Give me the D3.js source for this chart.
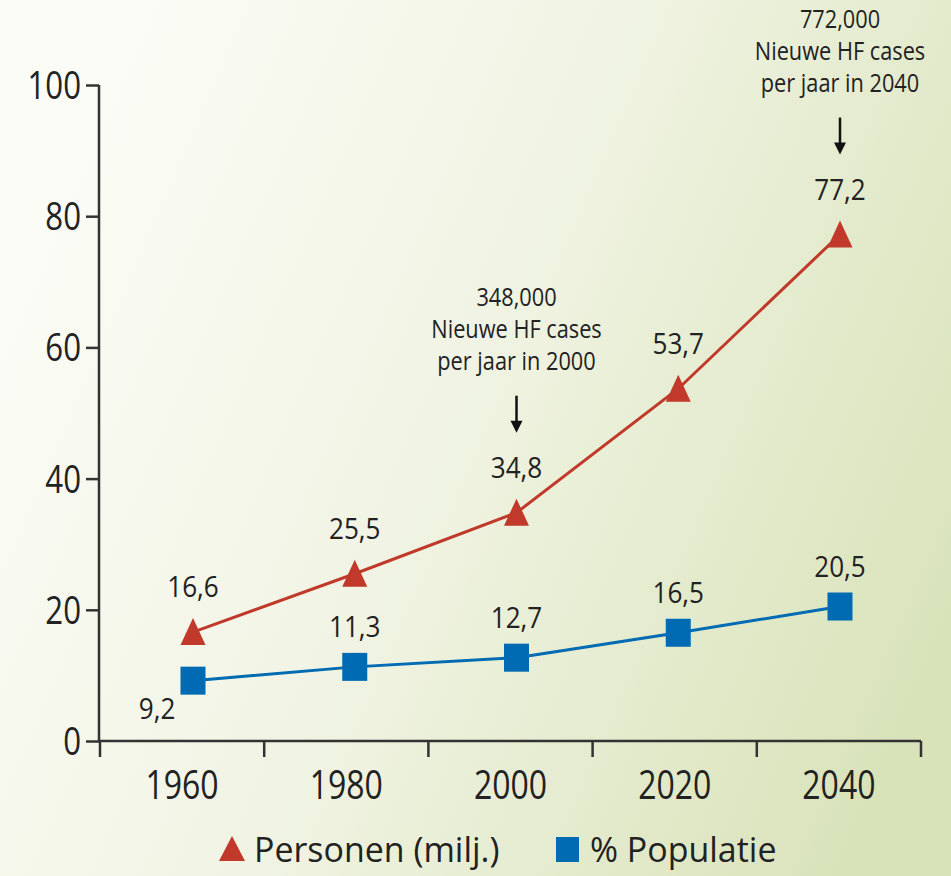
<!DOCTYPE html>
<html>
<head>
<meta charset="utf-8">
<script src="https://cdn.jsdelivr.net/npm/d3@7"></script>
<style>
  body { margin: 0; }
  svg text { font-family: "Open Sans", "Liberation Sans", sans-serif; fill: #222; }
</style>
</head>
<body>
<svg id="chart" width="951" height="876"></svg>
<script>
// data
var years = ['1960', '1980', '2000', '2020', '2040'];
var personen = [16.6, 25.5, 34.8, 53.7, 77.2];
var populatie = [9.2, 11.3, 12.7, 16.5, 20.5];
var yTicks = [0, 20, 40, 60, 80, 100];
var notes = [
  {year: '2000', lines: ['348,000', 'Nieuwe HF cases', 'per jaar in 2000']},
  {year: '2040', lines: ['772,000', 'Nieuwe HF cases', 'per jaar in 2040']}
];
var legendItems = ['Personen (milj.)', '% Populatie'];

var red = '#c0392a', blue = '#006bb2';
var fmt = function(v) { return String(v).replace('.', ','); };

var svg = d3.select('#chart');

// narrow text: squeeze horizontally around its anchor
function label(parent, x, y, str, size, sx, anchor) {
  return parent.append('text')
    .attr('transform', 'translate(' + x + ',' + y + ') scale(' + sx + ',1)')
    .attr('text-anchor', anchor || 'middle')
    .attr('font-size', size)
    .text(str);
}

// background gradient
var grad = svg.append('defs').append('linearGradient')
  .attr('id', 'bg').attr('x1', '0%').attr('y1', '30%').attr('x2', '100%').attr('y2', '70%');
grad.append('stop').attr('offset', '0%').attr('stop-color', '#fbfcf6');
grad.append('stop').attr('offset', '45%').attr('stop-color', '#f1f4e4');
grad.append('stop').attr('offset', '100%').attr('stop-color', '#d9e3ba');
svg.append('rect').attr('width', 951).attr('height', 876).attr('fill', 'url(#bg)');

var x = d3.scaleBand().domain(years).range([100, 921]);
var xp = d3.scalePoint().domain(years).range([193, 840]);
var y = d3.scaleLinear().domain([0, 100]).range([741, 85]);

// y axis
var yAxis = svg.append('g').attr('transform', 'translate(99,0)')
  .call(d3.axisLeft(y).tickValues(yTicks).tickSize(13).tickFormat(''));
yAxis.select('.domain').attr('d', 'M0,' + y(100) + 'V' + y(0)).attr('stroke', '#333').attr('stroke-width', 2.5);
yAxis.selectAll('.tick line').attr('stroke', '#333').attr('stroke-width', 2.5);
yTicks.forEach(function(t) {
  label(svg, 81, y(t) + 14, t, 39, 0.8, 'end');
});

// x axis with boundary ticks
var xAxis = svg.append('g').attr('transform', 'translate(0,741)');
xAxis.append('line').attr('x1', 98).attr('x2', 921).attr('stroke', '#333').attr('stroke-width', 2.5);
var bounds = years.map(function(d) { return x(d); }).concat([x.range()[1]]);
xAxis.selectAll('.btick').data(bounds).enter().append('line')
  .attr('x1', function(d) { return d; }).attr('x2', function(d) { return d; })
  .attr('y1', 0).attr('y2', 16).attr('stroke', '#333').attr('stroke-width', 2.5);
years.forEach(function(d) {
  label(xAxis, x(d) + x.bandwidth() / 2, 58, d, 41, 0.78);
});

// lines
var line = function(vals) {
  return d3.line().x(function(d, i) { return xp(years[i]); }).y(function(d) { return y(d); })(vals);
};
svg.append('path').attr('d', line(personen)).attr('fill', 'none').attr('stroke', red).attr('stroke-width', 3);
svg.append('path').attr('d', line(populatie)).attr('fill', 'none').attr('stroke', blue).attr('stroke-width', 3);

// markers
svg.selectAll('.sq').data(populatie).enter().append('rect')
  .attr('x', function(d, i) { return xp(years[i]) - 12.5; })
  .attr('y', function(d) { return y(d) - 14; })
  .attr('width', 25).attr('height', 28).attr('fill', blue);
svg.selectAll('.tri').data(personen).enter().append('path')
  .attr('d', function(d, i) {
    var cx = xp(years[i]), cy = y(d);
    return 'M' + cx + ',' + (cy - 14) + 'L' + (cx + 12.5) + ',' + (cy + 13) + 'L' + (cx - 12.5) + ',' + (cy + 13) + 'Z';
  })
  .attr('fill', red);

// value labels
personen.forEach(function(v, i) {
  label(svg, xp(years[i]), y(v) - 35, fmt(v), 30, 0.87);
});
populatie.forEach(function(v, i) {
  if (i === 0) label(svg, xp(years[i]) - 36, y(v) + 38, fmt(v), 30, 0.87);
  else label(svg, xp(years[i]), y(v) - 30, fmt(v), 30, 0.87);
});

// annotations
notes.forEach(function(n) {
  var i = years.indexOf(n.year);
  var cx = xp(n.year), tip = y(personen[i]) - 80;
  var g = svg.append('g');
  n.lines.forEach(function(s, j) {
    label(g, cx, tip - 127 + j * 32, s, 25, 0.87);
  });
  g.append('line').attr('x1', cx).attr('x2', cx).attr('y1', tip - 37).attr('y2', tip - 8)
    .attr('stroke', '#111').attr('stroke-width', 2.5);
  g.append('path').attr('d', 'M' + (cx - 6) + ',' + (tip - 12) + 'L' + (cx + 6) + ',' + (tip - 12) + 'L' + cx + ',' + tip + 'Z')
    .attr('fill', '#111');
});

// legend
var leg = svg.append('g').attr('transform', 'translate(0,849)');
leg.append('path').attr('d', 'M232,-13L245,12L219,12Z').attr('fill', red);
label(leg, 254, 13, legendItems[0], 35, 0.97, 'start');
leg.append('rect').attr('x', 556).attr('y', -12).attr('width', 23).attr('height', 25).attr('fill', blue);
label(leg, 590, 13, legendItems[1], 35, 0.97, 'start');
</script>
</body>
</html>
